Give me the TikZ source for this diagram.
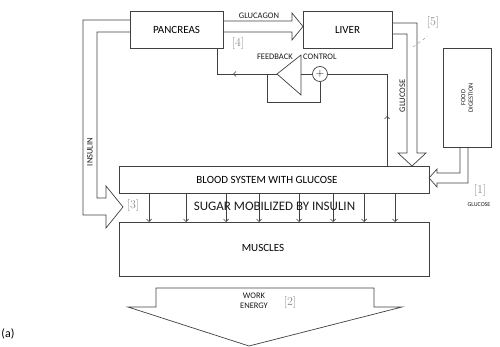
\documentclass[tikz,border=0pt]{standalone}
\usepackage{fontspec}
\newfontfamily\csans{Carlito}
\usetikzlibrary{arrows.meta,calc}
\begin{document}
\begin{tikzpicture}[x=1pt,y=-1pt,
  ln/.style={draw=black!75,line width=0.7pt},
  box/.style={ln,rectangle,inner sep=0pt,font=\csans\fontsize{11}{12}\selectfont},
  lab/.style={inner sep=0pt,font=\csans\fontsize{8.5}{9.5}\selectfont,text=black!90},
  ref/.style={inner sep=0pt,font=\fontsize{12}{13}\selectfont,text=black!45},
  tip/.style={-{Straight Barb[length=2.5pt,width=5pt]}},
]
\useasboundingbox (0,0) rectangle (500,347);
% boxes
\node[box,minimum width=93pt,minimum height=37pt] (pancreas) at (176.5,29.5) {PANCREAS};
\node[box,minimum width=89pt,minimum height=37pt] (liver) at (347.5,29.5) {LIVER};
\node[box,minimum width=48pt,minimum height=99pt] (food) at (467,97.5) {};
\node[lab,rotate=90,align=center,font=\csans\fontsize{6.5}{7.5}\selectfont] (foodtxt) at (food.center) {FOOD\\DIGESTION};
\node[box,minimum width=310pt,minimum height=27pt] (blood) at (274,179.5) {};
\node[box,minimum width=310pt,minimum height=54pt] (muscles) at (274,249) {};
\node[box,draw=none] (bloodtxt) at (267,180) {BLOOD SYSTEM WITH GLUCOSE};
\node[box,draw=none] (muscletxt) at (263,248) {MUSCLES};
% glucagon arrow
\draw[ln,line join=miter] (223,21) -- (292,21) -- (292,13) -- (303,26.5) -- (292,40) -- (292,32) -- (223,32);
\node[lab] (glucagon) at (259,16) {GLUCAGON};
\node[ref] (r4) at (238,44) {[4]};
% insulin arrow
\draw[ln] (130,20) -- (83,20) -- (83,215) -- (106,215) -- (106,228) -- (123,207) -- (106,186) -- (106,198) -- (97,198) -- (97,32) -- (130,32);
\node[lab,rotate=90] (insulin) at (90,152) {INSULIN};
\node[ref] (r3) at (133,206) {[3]};
% liver glucose arrow
\draw[ln] (392,23) -- (417,23) -- (417,153) -- (426,153) -- (412,166) -- (398,153) -- (407,153) -- (407,34) -- (392,34);
\node[lab,rotate=90] (glucose1) at (402.5,96) {GLUCOSE};
\node[ref] (r5) at (433,23) {[5]};
\draw[black!40,line width=0.5pt,dashed] (413,47) -- (428,36);
% food glucose arrow
\draw[ln] (460,147) -- (460,173) -- (437,173) -- (437,169) -- (429,178) -- (437,187) -- (437,183) -- (468,183) -- (468,147);
\node[ref] (r1) at (480,191) {[1]};
\node[lab,font=\csans\fontsize{6}{7}\selectfont] (glucose2) at (479,205) {GLUCOSE};
% feedback control
\coordinate (apex) at (277,74);
\draw[ln] (apex) -- (301,55) -- (301,95) -- cycle;
\node[ln,circle,inner sep=0pt,minimum size=15pt,font=\fontsize{11}{11}\selectfont] (sum) at (320,74) {+};
\draw[ln] (301,74) -- (sum.west);
\draw[ln,tip] (apex) -- (233,74);
\draw[ln] (234,74) -- (217,74) -- (217,48);
\draw[ln] (sum.south) -- (320,102) -- (267,102) -- (267,74);
\draw[ln,tip] (387,166) -- (387,116);
\draw[ln] (387,117) -- (387,74) -- (sum.east);
\node[lab,anchor=east] (fb) at (293,57) {FEEDBACK};
\node[lab,anchor=west] (ctrl) at (303,57) {CONTROL};
% sugar arrows
\foreach \x in {149,186,226,259,299,333,364,395}
  \draw[ln,tip] (\x,193) -- (\x,222);
\node[inner sep=0pt,font=\csans\fontsize{13}{14}\selectfont,text=black!90] (sugar) at (274.5,206) {SUGAR MOBILIZED BY INSULIN};
% work energy arrow
\draw[ln] (156,288) -- (374,288) -- (374,307) -- (402,307) -- (249,346) -- (128,307) -- (156,307) -- cycle;
\node[lab,align=center] (work) at (254,301) {WORK\\ENERGY};
\node[ref] (r2) at (290,302) {[2]};
\node[inner sep=0pt,font=\csans\fontsize{12}{13}\selectfont] (a) at (8,334) {(a)};
\end{tikzpicture}
\end{document}
